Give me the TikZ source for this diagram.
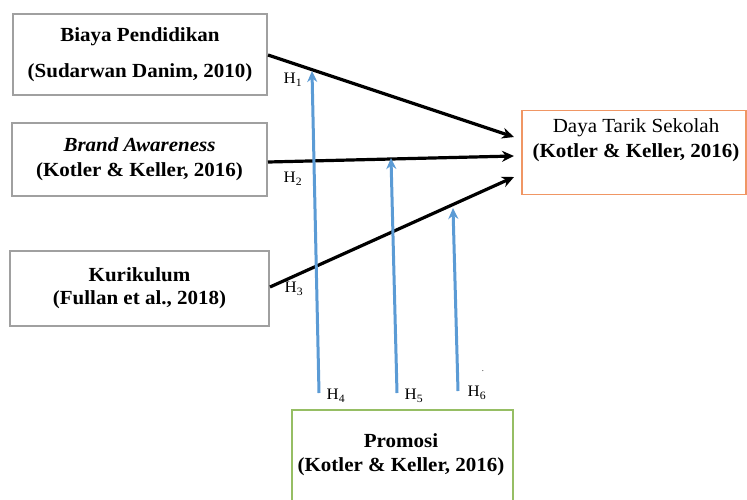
\documentclass[tikz,border=0pt]{standalone}
\usepackage{fontspec}
\setmainfont{Liberation Serif}[FakeStretch=1.05]
\usetikzlibrary{arrows.meta}
\definecolor{boxgray}{RGB}{160,160,160}
\definecolor{orangeb}{RGB}{240,150,100}
\definecolor{greenb}{RGB}{150,190,100}
\definecolor{bluearr}{RGB}{91,155,213}
\begin{document}
\begin{tikzpicture}[x=1pt,y=-1pt,
  varbox/.style={draw=boxgray,line width=1.6pt,inner sep=0pt,align=center,font=\fontsize{20}{25}\selectfont},
  txt/.style={align=center,font=\fontsize{20}{25}\selectfont,inner sep=0pt},
  blackarr/.style={line width=3.2pt,-{Stealth[length=12pt,width=11pt]}},
  bluearrow/.style={draw=bluearr,line width=3pt,-{Stealth[length=11pt,width=10pt]}},
  hlab/.style={font=\fontsize{16}{16}\selectfont,inner sep=0pt}
]
\useasboundingbox (0,0) rectangle (747,499);
\fill[white] (0,0) rectangle (747,499);
% variable boxes
\node[varbox,minimum width=254pt,minimum height=81pt] (biaya) at (140,54.5)
  {\textbf{Biaya Pendidikan}\\[11pt]\textbf{(Sudarwan Danim, 2010)}};
\node[varbox,minimum width=255pt,minimum height=73pt] (brand) at (139.5,159.5)
  {\textbf{\textit{Brand Awareness}}\\\textbf{(Kotler \& Keller, 2016)}};
\node[varbox,minimum width=259pt,minimum height=75pt,font=\fontsize{20}{23}\selectfont] (kuri) at (139.5,288.5)
  {\textbf{Kurikulum}\\\textbf{(Fullan et al., 2018)}};
\node[draw=orangeb,line width=1.6pt,minimum width=224pt,minimum height=84pt,inner sep=0pt] (daya) at (634,152.5) {};
\node[txt] (dayat) at (636,140)
  {Daya Tarik Sekolah\\\textbf{(Kotler \& Keller, 2016)}};
\node[draw=greenb,line width=1.6pt,minimum width=221pt,minimum height=100pt,inner sep=0pt] (promosi) at (402.5,460) {};
\node[txt,font=\fontsize{20}{24}\selectfont] (promt) at (401,455)
  {\textbf{Promosi}\\\textbf{(Kotler \& Keller, 2016)}};
% coordinates for arrow ends
\coordinate (t1) at (514,137);
\coordinate (t2) at (514,156);
\coordinate (t3) at (514,177);
\coordinate (s1) at (268,55);
\coordinate (s2) at (268,162);
\coordinate (s3) at (270,287);
\draw[blackarr] (s1) -- (t1);
\draw[blackarr] (s2) -- (t2);
\draw[blackarr] (s3) -- (t3);
% moderation arrows
\coordinate (b4) at (319,393);
\coordinate (e4) at (312,71);
\coordinate (b5) at (397,393);
\coordinate (e5) at (391,158);
\coordinate (b6) at (458,391);
\coordinate (e6) at (453,208);
\draw[bluearrow] (b4) -- (e4);
\draw[bluearrow] (b5) -- (e5);
\draw[bluearrow] (b6) -- (e6);
% labels
\node[hlab] (h1) at (293,80) {H\textsubscript{1}};
\node[hlab] (h2) at (293,179) {H\textsubscript{2}};
\node[hlab] (h3) at (294,289) {H\textsubscript{3}};
\node[hlab] (h4) at (336,396) {H\textsubscript{4}};
\node[hlab] (h5) at (414,396) {H\textsubscript{5}};
\node[hlab] (h6) at (477,393) {H\textsubscript{6}};
\node[hlab,font=\fontsize{8}{8}\selectfont] (dot) at (483,371) {.};
\end{tikzpicture}
\end{document}
